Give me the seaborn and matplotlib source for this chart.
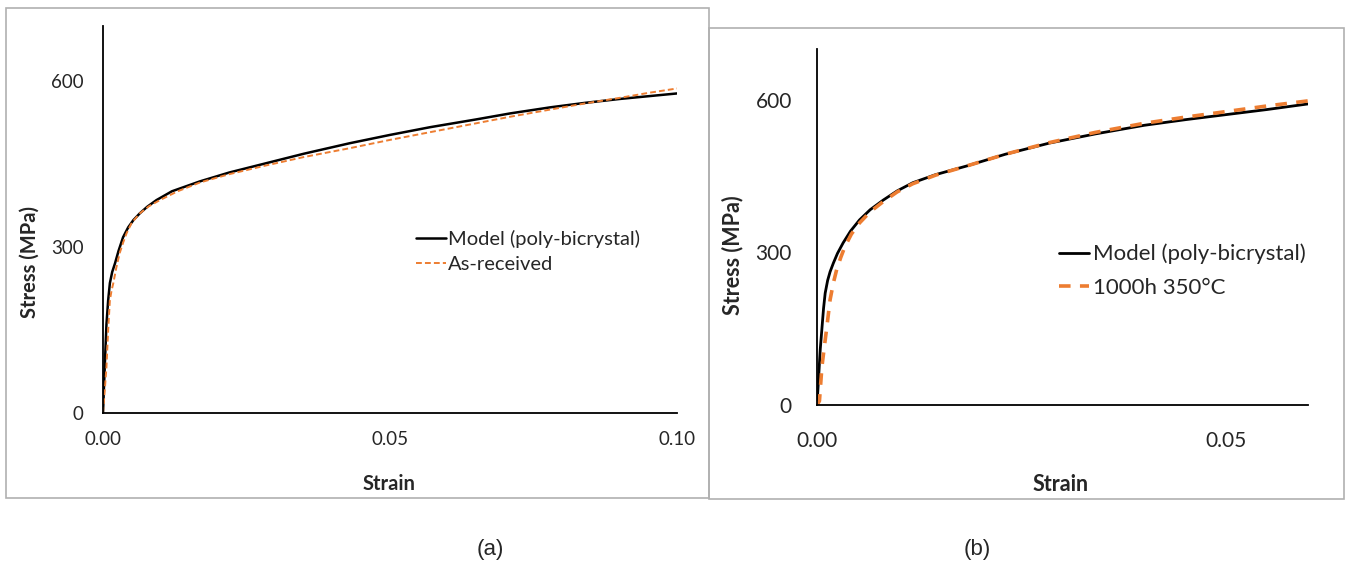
import matplotlib
matplotlib.use("Agg")
import matplotlib.pyplot as plt
import seaborn as sns
from matplotlib.patches import Rectangle

# ---------------------------------------------------------------------------
# Data
# ---------------------------------------------------------------------------
a_model_strain = [0, 0.0003, 0.0006, 0.0009, 0.0012, 0.0016, 0.0021, 0.0027, 0.0035,
                  0.0044, 0.0053, 0.0064, 0.0077, 0.0093, 0.012, 0.0169, 0.022, 0.0285,
                  0.035, 0.043, 0.05, 0.057, 0.065, 0.071, 0.078, 0.084, 0.09, 0.095, 0.10]
a_model_stress = [0, 83, 160, 204, 235, 255, 271, 293, 318,
                  336, 349, 361, 373, 385, 401, 419, 435, 452,
                  469, 488, 503, 517, 531, 542, 553, 561, 568, 573, 578]
a_exp_strain = [0, 0.0003, 0.0006, 0.0009, 0.0012, 0.0015, 0.0018, 0.0023, 0.0029,
                0.0035, 0.0041, 0.005, 0.0064, 0.008, 0.0099, 0.013, 0.0169, 0.022,
                0.0285, 0.035, 0.043, 0.05, 0.057, 0.065, 0.071, 0.078, 0.084, 0.09,
                0.095, 0.10]
a_exp_stress = [0, 40, 83, 150, 204, 222, 235, 262, 289,
                308, 325, 344, 361, 374, 385, 401, 417, 432,
                448, 463, 479, 494, 508, 524, 536, 549, 560, 570,
                579, 587]

b_model_strain = [0, 0.0004, 0.0008, 0.001, 0.0013, 0.0016, 0.002, 0.0025, 0.0032,
                  0.0041, 0.0052, 0.0065, 0.0081, 0.0098, 0.0117, 0.0145, 0.0183, 0.023,
                  0.0284, 0.034, 0.04, 0.045, 0.05, 0.055, 0.06]
b_model_stress = [0, 110, 190, 220, 245, 262, 279, 298, 319,
                  342, 364, 384, 403, 421, 437, 453, 470, 493,
                  515, 533, 550, 561, 571, 581, 592]
b_exp_strain = [0, 0.0003, 0.0006, 0.0009, 0.0012, 0.0016, 0.002, 0.0024, 0.0029,
                0.0034, 0.0042, 0.0052, 0.0065, 0.0081, 0.0098, 0.0117, 0.0145, 0.0183,
                0.023, 0.0284, 0.034, 0.04, 0.045, 0.05, 0.055, 0.06]
b_exp_stress = [0, 8, 75, 115, 153, 207, 240, 266, 290,
                311, 336, 358, 380, 400, 419, 435, 452, 470,
                493, 516, 536, 554, 566, 577, 588, 598]

y_ticks = [0, 300, 600]
a_x_ticks = [0.0, 0.05, 0.10]
b_x_ticks = [0.0, 0.05]

ORANGE = "#ED7D31"
W, H = 1348, 565

sns.set_theme(style="white")
plt.rcParams["font.family"] = ["Lato", "DejaVu Sans"]

fig = plt.figure(figsize=(W / 100, H / 100), dpi=100)
fig.patch.set_facecolor("white")


def px_rect(x0, y0, x1, y1):
    return [x0 / W, 1 - y1 / H, (x1 - x0) / W, (y1 - y0) / H]


# grey panel frames
for x0, y0, x1, y1 in [(6, 8, 709, 498), (709, 28, 1344, 499)]:
    r = px_rect(x0, y0, x1, y1)
    fig.patches.append(Rectangle((r[0], r[1]), r[2], r[3], transform=fig.transFigure,
                                 fill=False, edgecolor="#b0b0b0", linewidth=1.2))


def style_axes(ax, xlim, xticks, fs, xpad, ypad):
    ax.set_xlim(*xlim)
    ax.set_ylim(0, 700)
    ax.set_xticks(xticks)
    ax.set_xticklabels([f"{t:.2f}" for t in xticks], fontsize=fs)
    ax.set_yticks(y_ticks)
    ax.set_yticklabels([str(t) for t in y_ticks], fontsize=fs)
    for s in ["top", "right"]:
        ax.spines[s].set_visible(False)
    for s in ["left", "bottom"]:
        ax.spines[s].set_color("black")
        ax.spines[s].set_linewidth(1.3)
    ax.tick_params(axis="x", length=0, pad=xpad)
    ax.tick_params(axis="y", length=0, pad=ypad)
    ax.set_facecolor("none")


# ---- panel (a)
ax1 = fig.add_axes(px_rect(103, 26, 677, 413))
sns.lineplot(x=a_model_strain, y=a_model_stress, ax=ax1, color="black", lw=1.8,
             label="Model (poly-bicrystal)")
sns.lineplot(x=a_exp_strain, y=a_exp_stress, ax=ax1, color=ORANGE, lw=1.4,
             linestyle=(0, (3, 1.6)), label="As-received")
style_axes(ax1, (0, 0.10), a_x_ticks, 13.5, 13, 14)
ax1.set_xlabel("Strain", fontsize=14.5, fontweight="bold")
ax1.set_ylabel("Stress (MPa)", fontsize=14.5, fontweight="bold")
ax1.xaxis.set_label_coords(0.498, -0.157)
ax1.yaxis.set_label_coords(-0.111, 0.39)
ax1.legend(loc="upper left", bbox_to_anchor=(408 / W, 1 - 222 / H),
           bbox_transform=fig.transFigure, frameon=False, fontsize=14.5,
           handlelength=1.5, handletextpad=0.1, labelspacing=0.38, borderaxespad=0)

# ---- panel (b)
ax2 = fig.add_axes(px_rect(817, 49, 1308, 405))
sns.lineplot(x=b_model_strain, y=b_model_stress, ax=ax2, color="black", lw=2.0,
             label="Model (poly-bicrystal)")
sns.lineplot(x=b_exp_strain, y=b_exp_stress, ax=ax2, color=ORANGE, lw=2.6,
             linestyle=(0, (3.2, 2.6)), label="1000h 350°C")
style_axes(ax2, (0, 0.06), b_x_ticks, 15, 19, 18)
ax2.set_xlabel("Strain", fontsize=15.5, fontweight="bold")
ax2.set_ylabel("Stress (MPa)", fontsize=15.5, fontweight="bold")
ax2.xaxis.set_label_coords(0.497, -0.195)
ax2.yaxis.set_label_coords(-0.149, 0.42)
ax2.legend(loc="upper left", bbox_to_anchor=(1050 / W, 1 - 235 / H),
           bbox_transform=fig.transFigure, frameon=False, fontsize=16,
           handlelength=1.35, handletextpad=0.2, labelspacing=0.6, borderaxespad=0)

# captions
fig.text(490 / W, 1 - 549 / H, "(a)", ha="center", va="center", fontsize=16,
         family="Liberation Sans")
fig.text(977 / W, 1 - 549 / H, "(b)", ha="center", va="center", fontsize=16,
         family="Liberation Sans")

fig.savefig("out.png", dpi=100, facecolor="white")
